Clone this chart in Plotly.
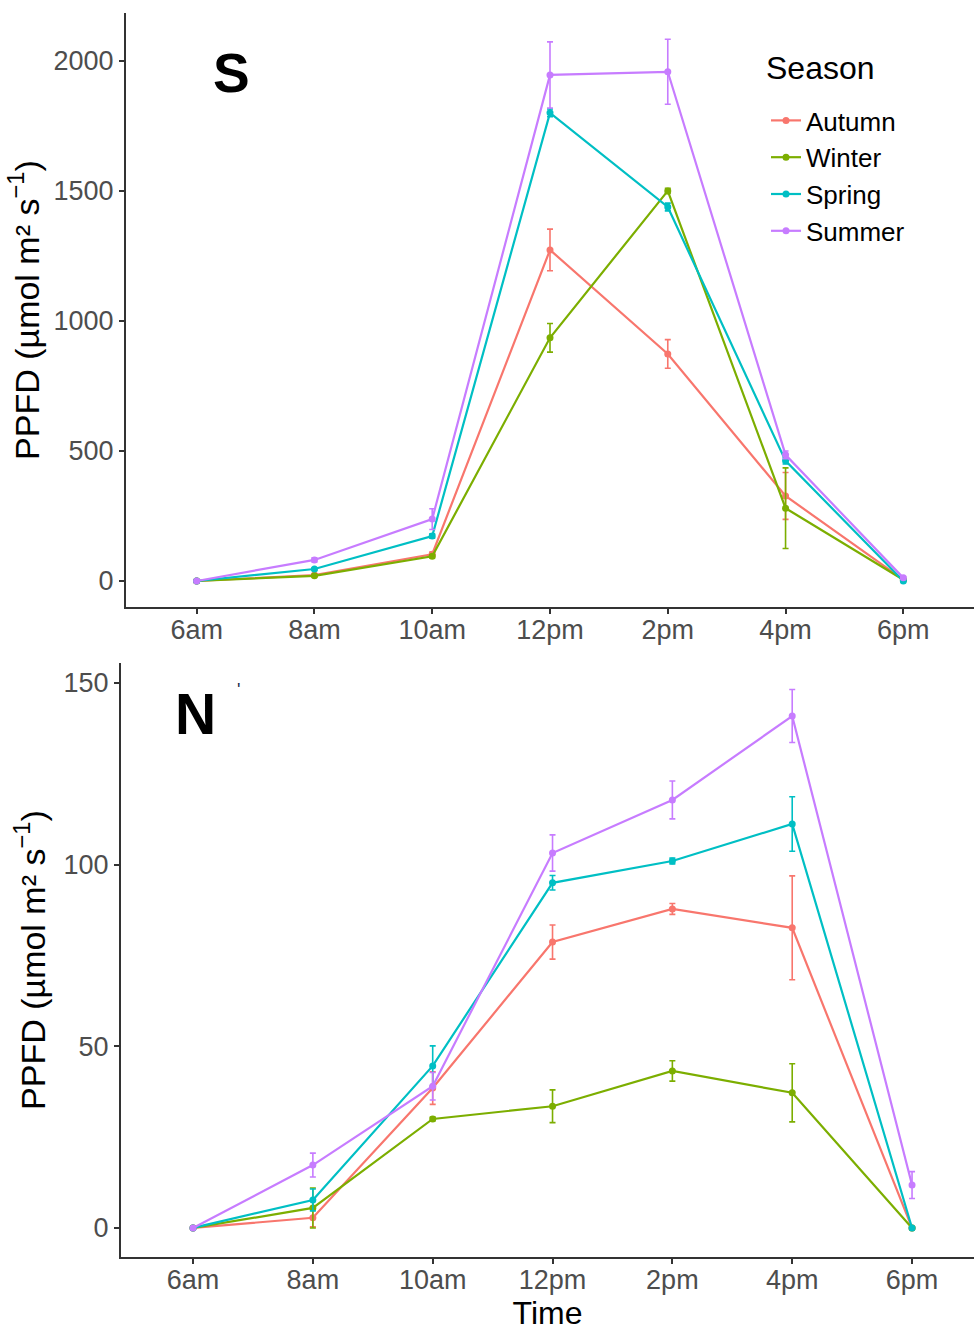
import plotly.graph_objects as go

times = ["6am", "8am", "10am", "12pm", "2pm", "4pm", "6pm"]
xpos = [1, 2, 3, 4, 5, 6, 7]
seasons = ["Autumn", "Winter", "Spring", "Summer"]
colors = ["#F8766D", "#7CAE00", "#00BFC4", "#C77CFF"]

# Panel S (top)
s_autumn = [0, 23, 103, 1273, 873, 327, 5]
s_autumn_err = [0, 5, 8, 80, 55, 90, 3]
s_winter = [0, 20, 95, 935, 1500, 280, 5]
s_winter_err = [0, 4, 6, 55, 10, 155, 3]
s_spring = [0, 46, 173, 1800, 1438, 462, 0]
s_spring_err = [0, 5, 8, 15, 15, 12, 2]
s_summer = [0, 81, 238, 1946, 1958, 485, 12]
s_summer_err = [0, 8, 40, 127, 125, 15, 4]

# Panel N (bottom)
n_autumn = [0, 2.8, 38.5, 78.7, 87.8, 82.6, 0]
n_autumn_err = [0, 2.5, 4.5, 4.7, 1.5, 14.3, 0.3]
n_winter = [0, 5.5, 30, 33.5, 43.2, 37.2, 0]
n_winter_err = [0, 5.5, 0.5, 4.5, 2.8, 8, 0.3]
n_spring = [0, 7.7, 44.6, 95, 101, 111.2, 0]
n_spring_err = [0, 3, 5.5, 2, 0.8, 7.5, 0.3]
n_summer = [0, 17.3, 39, 103.2, 117.8, 140.9, 11.8]
n_summer_err = [0, 3.3, 3.8, 5, 5.2, 7.3, 3.7]

top_vals = [(s_autumn, s_autumn_err), (s_winter, s_winter_err), (s_spring, s_spring_err), (s_summer, s_summer_err)]
bot_vals = [(n_autumn, n_autumn_err), (n_winter, n_winter_err), (n_spring, n_spring_err), (n_summer, n_summer_err)]

W, H = 974, 1331
FONT = "Liberation Sans, Arial, sans-serif"
fig = go.Figure()

for i, name in enumerate(seasons):
    v, e = top_vals[i]
    fig.add_trace(go.Scatter(
        x=xpos, y=v, mode="lines+markers", name=name,
        line=dict(color=colors[i], width=2.2), marker=dict(color=colors[i], size=7),
        error_y=dict(type="data", array=e, visible=True, color=colors[i], thickness=1.6, width=3),
        xaxis="x", yaxis="y", showlegend=True))
for i, name in enumerate(seasons):
    v, e = bot_vals[i]
    fig.add_trace(go.Scatter(
        x=xpos, y=v, mode="lines+markers", name=name,
        line=dict(color=colors[i], width=2.2), marker=dict(color=colors[i], size=7),
        error_y=dict(type="data", array=e, visible=True, color=colors[i], thickness=1.6, width=3),
        xaxis="x2", yaxis="y2", showlegend=False))

tickfont = dict(family=FONT, size=27, color="#4D4D4D")
titlefont = dict(family=FONT, size=32, color="black")
ytitlefont = dict(family=FONT, size=34, color="black")
axcommon = dict(showgrid=False, zeroline=False, showline=True, linecolor="#333333", linewidth=2,
                ticks="outside", ticklen=5, tickwidth=1.5, tickcolor="#333333", tickfont=tickfont)

ytitle = "PPFD (µmol m² s<sup>−1</sup>)"

fig.update_layout(
    width=W, height=H, margin=dict(l=0, r=0, t=0, b=0),
    paper_bgcolor="white", plot_bgcolor="white",
    font=dict(family=FONT),
    xaxis=dict(domain=[126 / W, 1.0], range=[0.4, 7.6], tickvals=xpos, ticktext=times,
               anchor="y", ticklabelstandoff=-7, **axcommon),
    yaxis=dict(domain=[1 - 607 / H, 1 - 13 / H], range=[-100, 2184], tickvals=[0, 500, 1000, 1500, 2000],
               anchor="x", title=dict(text=ytitle, font=ytitlefont, standoff=4), **axcommon),
    xaxis2=dict(domain=[121 / W, 1.0], range=[0.399, 7.517], tickvals=xpos, ticktext=times,
                anchor="y2", ticklabelstandoff=-7,
                title=dict(text="Time", font=titlefont, standoff=4), **axcommon),
    yaxis2=dict(domain=[1 - 1257 / H, 1 - 663 / H], range=[-8, 155.5], tickvals=[0, 50, 100, 150],
                anchor="x2", title=dict(text=ytitle, font=ytitlefont, standoff=8), **axcommon),
    legend=dict(x=766 / W, y=1 - 97 / H, xanchor="left", yanchor="top",
                font=dict(family=FONT, size=26, color="black"),
                bgcolor="rgba(0,0,0,0)", itemwidth=30, tracegroupgap=0),
    showlegend=True,
)

fig.add_annotation(text="Season", x=764 / W, y=1 - 68 / H, xref="paper", yref="paper",
                   xanchor="left", yanchor="middle", showarrow=False,
                   font=dict(family=FONT, size=32, color="black"))
fig.add_annotation(text="<b>S</b>", x=231 / W, y=1 - 73 / H, xref="paper", yref="paper",
                   xanchor="center", yanchor="middle",
                   showarrow=False, font=dict(family=FONT, size=55, color="black"))
fig.add_annotation(text="<b>N</b>", x=195 / W, y=1 - 714 / H, xref="paper", yref="paper",
                   xanchor="center", yanchor="middle",
                   showarrow=False, font=dict(family=FONT, size=57, color="black"))
fig.add_annotation(text="'", x=238 / W, y=1 - 690 / H, xref="paper", yref="paper",
                   xanchor="center", yanchor="middle",
                   showarrow=False, font=dict(family=FONT, size=18, color="#1a2a4a"))

fig.write_html("out.html")
